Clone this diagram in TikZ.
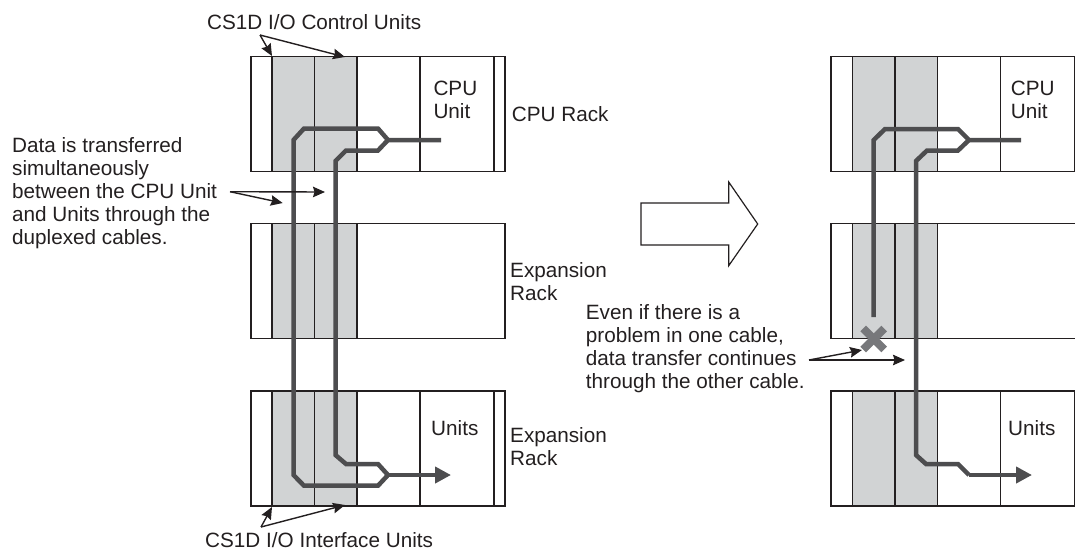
\documentclass[tikz,border=0pt]{standalone}
\usepackage{fontspec}
\setmainfont{Liberation Sans}
\usetikzlibrary{arrows.meta}
\definecolor{unitgray}{HTML}{D1D3D4}
\definecolor{cablegray}{HTML}{4D4D4F}
\definecolor{crossgray}{HTML}{77787B}
\definecolor{inkblack}{HTML}{231F20}
\tikzset{
  unitbox/.style={draw=inkblack,fill=unitgray,line width=1.2pt,inner sep=0pt,outer sep=0pt,
    anchor=north west,minimum width=42.5pt,minimum height=115pt},
  rackbox/.style={draw=inkblack,line width=1.2pt,inner sep=0pt,outer sep=0pt,
    anchor=north west,minimum height=115pt},
  rackline/.style={draw=inkblack,line width=1.2pt},
  cable/.style={draw=cablegray,line width=4.5pt},
  callout/.style={draw=inkblack,line width=1.4pt,-{Stealth[length=12pt,width=10.5pt,inset=1.5pt]}},
  labeltext/.style={font=\fontsize{20.7}{23}\selectfont,text=inkblack,inner sep=0pt,
    anchor=base west,align=left},
}
\begin{document}
\begin{tikzpicture}[x=1pt,y=-1pt]
    \useasboundingbox (0,0) rectangle (1075,550);
    % racks, left and right
    \node[rackbox,minimum width=254pt] (topL) at (251,56.5) {};
    \node[rackbox,minimum width=254pt] (midL) at (251,223.5) {};
    \node[rackbox,minimum width=254pt] (botL) at (251,391) {};
    \node[rackbox,minimum width=243.5pt] (topR) at (831,56.5) {};
    \node[rackbox,minimum width=243.5pt] (botR) at (831,391) {};
    \draw[rackline] (1075,223.5) -- (831,223.5) -- (831,338.5) -- (1075,338.5);
    \foreach \sx/\sd in {0/L,580.5/R} {
      \foreach \ry/\rn in {56.5/top,223.5/mid,391/bot} {
        \node[unitbox] (\rn\sd a) at (272+\sx,\ry) {};
        \node[unitbox] (\rn\sd b) at (314.5+\sx,\ry) {};
      }
      \foreach \ry in {56.5,391} {
        \draw[rackline] (420+\sx,\ry) -- ++(0,115);
      }
    }
    \foreach \ry in {56.5,391} {
      \draw[rackline] (494,\ry) -- ++(0,115);
    }
    % cables, left
    \draw[cable] (441,140) -- (388,140) -- (378,128.5) -- (304,128.5) -- (293.5,140)
      -- (293.5,475) -- (304,485.7) -- (378,485.7) -- (388,475);
    \draw[cable] (388,140) -- (378,150.5) -- (346,150.5) -- (335.5,161) -- (335.5,455)
      -- (346,464) -- (378,464) -- (388,475);
    \draw[cable,-{Stealth[length=16pt,width=16pt,inset=0pt]}] (388,475) -- (451,475);
    % cables, right
    \draw[cable] (1021,140) -- (969,140) -- (958,129) -- (885,129) -- (873.7,140) -- (873.7,317);
    \draw[cable] (969,140) -- (958,150.5) -- (927,150.5) -- (916,161) -- (916,455)
      -- (926,464) -- (958,464) -- (969,475);
    \draw[cable,-{Stealth[length=16pt,width=16pt,inset=0pt]}] (969,475) -- (1032,475);
    % broken cable
    \coordinate (crossmid) at (873.7,339);
    \draw[crossgray,line width=8pt] (crossmid) ++(-10.5,-10.5) -- ++(21,21);
    \draw[crossgray,line width=8pt] (crossmid) ++(10.5,-10.5) -- ++(-21,21);
    % big hollow arrow
    \draw[draw=inkblack,line width=1.2pt] (641,203) -- (728.7,203) -- (728.7,182) -- (757.7,224)
      -- (728.7,265.7) -- (728.7,245) -- (641,245) -- cycle;
    % labels
    \node[labeltext] (ctrllabel) at (207,29) {CS1D I/O Control Units};
    \node[labeltext] (ifacelabel) at (205,547) {CS1D I/O Interface Units};
    \node[labeltext] (datalabel) at (12,244) {Data is transferred\\simultaneously\\between the CPU Unit\\and Units through the\\duplexed cables.};
    \node[labeltext] (evenlabel) at (585.7,388) {Even if there is a\\problem in one cable,\\data transfer continues\\through the other cable.};
    \node[labeltext] (cpurack) at (511.7,121.7) {CPU Rack};
    \node[labeltext] (exprackmid) at (510,300) {Expansion\\Rack};
    \node[labeltext] (exprackbot) at (510,465) {Expansion\\Rack};
    \node[labeltext] (cpuL) at (433.3,118) {CPU\\Unit};
    \node[labeltext] (cpuR) at (1010.7,118) {CPU\\Unit};
    \node[labeltext] (unitsL) at (431,435.7) {Units};
    \node[labeltext] (unitsR) at (1008,435.7) {Units};
    % callouts
    \coordinate (ctrlfork) at (260,35);
    \coordinate (ifacefork) at (261,527);
    \coordinate (datafork) at (230,191.7);
    \coordinate (evenfork) at (809,360);
    \draw[callout] (ctrlfork) -- (272,56);
    \draw[callout] (ctrlfork) -- (345,57);
    \draw[callout] (ifacefork) -- (272,507);
    \draw[callout] (ifacefork) -- (345,505);
    \draw[callout] (datafork) -- (325,192);
    \draw[callout] (datafork) -- (282.7,203);
    \draw[callout] (evenfork) -- (862,350);
    \draw[callout] (evenfork) -- (905,360);
  \end{tikzpicture}
\end{document}
